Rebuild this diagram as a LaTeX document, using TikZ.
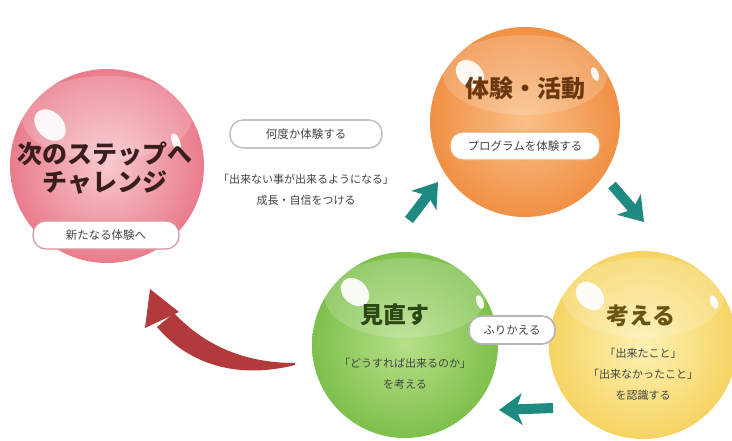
\documentclass[tikz,border=0pt]{standalone}
\usepackage{fontspec}
\setmainfont{Noto Sans CJK JP}
\usepackage{tikz}
\usetikzlibrary{arrows.meta}

\definecolor{tealarr}{HTML}{1E8A82}
\definecolor{redarr}{HTML}{B23A3C}
\definecolor{bodytxt}{HTML}{444444}
\definecolor{redin}{HTML}{F8C8CE}
\definecolor{redout}{HTML}{EA7C8C}
\definecolor{orangein}{HTML}{FAC088}
\definecolor{orangeout}{HTML}{F09044}
\definecolor{yellowin}{HTML}{FDF2B4}
\definecolor{yellowout}{HTML}{F6D462}
\definecolor{greenin}{HTML}{B6E088}
\definecolor{greenout}{HTML}{7EC04C}
\definecolor{redtxt}{HTML}{3A1E1E}
\definecolor{orangetxt}{HTML}{6A3810}
\definecolor{yellowtxt}{HTML}{6A5410}
\definecolor{greentxt}{HTML}{2C4814}
\definecolor{redline}{HTML}{D6969E}
\definecolor{grayline}{HTML}{C4C4C4}
\definecolor{orangeline}{HTML}{ECA664}
\definecolor{darkline}{HTML}{B4B4B4}

\tikzset{
  sphere/.style={circle, minimum size=#1, inner sep=0pt},
  shine/.style={fill=white, opacity=0.92},
  gloss/.style={fill=white, opacity=0.18},
  btn/.style={draw=#1, line width=1.2pt, fill=white, rounded corners=13pt,
    minimum height=28pt, text=bodytxt, font=\fontsize{11.5}{13}\selectfont},
  title/.style={font=\fontsize{#1}{#1}\selectfont\bfseries},
  note/.style={text=bodytxt, align=center, font=\fontsize{11}{21}\selectfont},
  tealarrow/.style={draw=tealarr, line width=10pt,
    -{Stealth[length=23pt,width=31pt,inset=6pt]}}
}

\begin{document}
\begin{tikzpicture}[x=1pt,y=-1pt]
			%%%%% START %%%%%
			\useasboundingbox[fill=white] (0,0) rectangle (732,440);
			
			% spheres
			\node[sphere=194pt, shading=radial, inner color=redin, outer color=redout] (redball) at (107,166) {};
			\node[sphere=190pt, shading=radial, inner color=orangein, outer color=orangeout] (orangeball) at (525,122) {};
			\node[sphere=188pt, shading=radial, inner color=yellowin, outer color=yellowout] (yellowball) at (643,345) {};
			\node[sphere=186pt, shading=radial, inner color=greenin, outer color=greenout] (greenball) at (405,345) {};
			
			% glossy bands and highlights
			\fill[gloss] (107,118) ellipse (85 and 42);
			\fill[gloss] (525,75) ellipse (82 and 40);
			\fill[gloss] (643,298) ellipse (80 and 40);
			\fill[gloss] (405,298) ellipse (80 and 40);
			\fill[shine, rotate around={-45:(50,125)}] (50,125) ellipse (18 and 13);
			\fill[shine, rotate around={20:(176,142)}] (176,142) ellipse (4 and 9);
			\fill[shine, rotate around={-45:(470,74)}] (470,74) ellipse (16 and 12);
			\fill[shine, rotate around={20:(595,74)}] (595,74) ellipse (3.5 and 7);
			\fill[shine, rotate around={-45:(355,292)}] (355,292) ellipse (16 and 12);
			\fill[shine, rotate around={20:(480,302)}] (480,302) ellipse (3.5 and 7);
			\fill[shine, rotate around={-45:(590,296)}] (590,296) ellipse (16 and 12);
			\fill[shine, rotate around={20:(714,302)}] (714,302) ellipse (3.5 and 7);
			
			% titles
			\node[title=25, text=redtxt, align=center] (redtitle) at (105,168) {次のステップへ\\[3pt]チャレンジ};
			\node[title=24, text=orangetxt] (orangetitle) at (525,88) {体験・活動};
			\node[title=23, text=yellowtxt] (yellowtitle) at (641,316) {考える};
			\node[title=23, text=greentxt] (greentitle) at (395,315) {見直す};
			
			% buttons
			\node[btn=redline, minimum width=146pt] (newbtn) at (106,235) {新たなる体験へ};
			\node[btn=grayline, minimum width=152pt, line width=1.6pt] (againbtn) at (306,134) {何度か体験する};
			\node[btn=orangeline, minimum width=150pt] (progbtn) at (525,146) {プログラムを体験する};
			\node[btn=darkline, minimum width=86pt, line width=1.6pt] (lookbtn) at (512,330) {ふりかえる};
			
			% notes
			\node[note] (grownote) at (306,190) {「出来ない事が出来るようになる」\\成長・自信をつける};
			\node[note] (thinknote) at (643,374) {「出来たこと」\\「出来なかったこと」\\を認識する};
			\node[note] (reviewnote) at (405,374) {「どうすれば出来るのか」\\を考える};
			
			% teal arrows
			\coordinate (a1s) at (409,220);
			\coordinate (a1e) at (438,182);
			\coordinate (a2s) at (612,185);
			\coordinate (a2e) at (644,222);
			\coordinate (a3s) at (553,408);
			\coordinate (a3e) at (499,410);
			\draw[tealarrow] (a1s) -- (a1e);
			\draw[tealarrow] (a2s) -- (a2e);
			\draw[tealarrow] (a3s) -- (a3e);
			
			% red curved arrow
			\coordinate (redtail) at (295,363);
			\coordinate (redtip) at (150,289);
			\fill[redarr] (174,313) .. controls (205,346) and (245,363) .. (redtail)
				-- (295,365) .. controls (240,379) and (190,366) .. (157,327) -- cycle;
			\fill[redarr] (redtip) -- (179,312) -- (145,328) -- cycle;
			
			%%%%% END %%%%%
\end{tikzpicture}
\end{document}
